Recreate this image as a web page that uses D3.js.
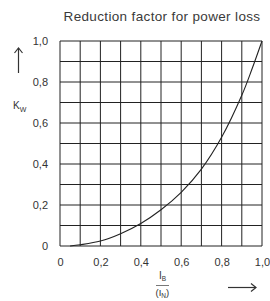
<!DOCTYPE html>
<html>
<head>
<meta charset="utf-8">
<script src="https://cdn.jsdelivr.net/npm/d3@7"></script>
<style>
  body { margin: 0; background: #fff; }
  text { font-family: "Liberation Sans", Arial, sans-serif; fill: #333; }
</style>
</head>
<body>
<div id="chart"></div>
<script>
// curve: I_B/(I_N) -> K_w
const ibRatio = [0.05, 0.1, 0.2, 0.3, 0.4, 0.5, 0.6, 0.7, 0.8, 0.9, 0.95, 1.0];
const kw = [0, 0.006, 0.024, 0.06, 0.11, 0.177, 0.262, 0.375, 0.53, 0.735, 0.862, 1.0];

const gridSteps = [0, 0.1, 0.2, 0.3, 0.4, 0.5, 0.6, 0.7, 0.8, 0.9, 1.0];
const labelTicks = [0, 0.2, 0.4, 0.6, 0.8, 1.0];
const labelText = ['0', '0,2', '0,4', '0,6', '0,8', '1,0'];

const W = 270, H = 301;
const margin = { top: 41, right: 8, bottom: 55, left: 60 };
const width = W - margin.left - margin.right,
    height = H - margin.top - margin.bottom;

const svg = d3.select('#chart')
    .append('svg')
    .attr('width', W)
    .attr('height', H);

const g = svg.append('g')
    .attr('transform', `translate(${margin.left}, ${margin.top})`);

const x = d3.scaleLinear().domain([0, 1]).range([0, width]);
const y = d3.scaleLinear().domain([0, 1]).range([height, 0]);

// titolo
svg.append('text')
    .attr('x', 162)
    .attr('y', 21)
    .attr('text-anchor', 'middle')
    .style('font-size', '13.5px')
    .style('letter-spacing', '0.35px')
    .style('fill', '#3a3a3a')
    .text('Reduction factor for power loss');

// griglia
g.append('g')
    .selectAll('line.v')
    .data(gridSteps)
    .join('line')
    .attr('x1', d => x(d)).attr('x2', d => x(d))
    .attr('y1', 0).attr('y2', height)
    .attr('stroke', '#222').attr('stroke-width', 1);

g.append('g')
    .selectAll('line.h')
    .data(gridSteps)
    .join('line')
    .attr('y1', d => y(d)).attr('y2', d => y(d))
    .attr('x1', 0).attr('x2', width)
    .attr('stroke', '#222').attr('stroke-width', 1);

// etichette assi
const xAxis = g.append('g')
    .attr('transform', `translate(0, ${height})`)
    .call(d3.axisBottom(x).tickValues(labelTicks)
        .tickFormat((d, i) => labelText[i]).tickSize(0).tickPadding(12));
xAxis.select('.domain').remove();
xAxis.selectAll('text').style('font-size', '11px').style('font-family', null);

const yAxis = g.append('g')
    .call(d3.axisLeft(y).tickValues(labelTicks)
        .tickFormat((d, i) => labelText[i]).tickSize(0).tickPadding(12));
yAxis.select('.domain').remove();
yAxis.selectAll('text').style('font-size', '11px').style('font-family', null);

// curva
const line = d3.line()
    .x((d, i) => x(ibRatio[i]))
    .y(d => y(d))
    .curve(d3.curveCatmullRom.alpha(0.5));

g.append('path')
    .datum(kw)
    .attr('d', line)
    .attr('fill', 'none')
    .attr('stroke', '#222')
    .attr('stroke-width', 1.1);

// freccia asse y e K_w
svg.append('line')
    .attr('x1', 18.5).attr('x2', 18.5)
    .attr('y1', 48).attr('y2', 73)
    .attr('stroke', '#333').attr('stroke-width', 1.2);
svg.append('path')
    .attr('d', 'M14.5,53 L18.5,48 L22.5,53')
    .attr('fill', 'none').attr('stroke', '#333').attr('stroke-width', 1.2);

const kLabel = svg.append('text')
    .attr('x', 13)
    .attr('y', 109)
    .style('font-size', '10px');
kLabel.append('tspan').text('K');
kLabel.append('tspan').attr('dy', 3).style('font-size', '7px').text('W');

// etichetta asse x: I_B / (I_N)
const ib = svg.append('text')
    .attr('x', 159)
    .attr('y', 279)
    .style('font-size', '10px');
ib.append('tspan').text('I');
ib.append('tspan').attr('dy', 2).style('font-size', '6.5px').text('B');

svg.append('line')
    .attr('x1', 156).attr('x2', 169)
    .attr('y1', 285.5).attr('y2', 285.5)
    .attr('stroke', '#555').attr('stroke-width', 0.8);

const inom = svg.append('text')
    .attr('x', 155.5)
    .attr('y', 296)
    .style('font-size', '9.5px');
inom.append('tspan').text('(I');
inom.append('tspan').attr('dy', 2).style('font-size', '6.5px').text('N');
inom.append('tspan').attr('dy', -2).text(')');

// freccia asse x
svg.append('line')
    .attr('x1', 228).attr('x2', 256)
    .attr('y1', 287.5).attr('y2', 287.5)
    .attr('stroke', '#333').attr('stroke-width', 1.2);
svg.append('path')
    .attr('d', 'M251,283.5 L256,287.5 L251,291.5')
    .attr('fill', 'none').attr('stroke', '#333').attr('stroke-width', 1.2);
</script>
</body>
</html>
